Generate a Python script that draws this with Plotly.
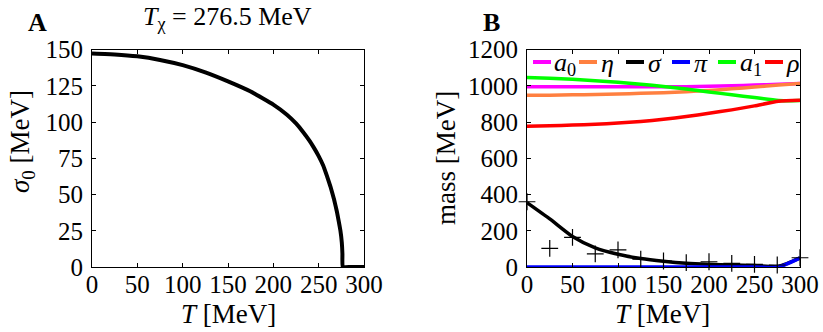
import plotly.graph_objects as go

W, H = 823, 332

# ---------------- data ----------------
T_A = [0, 25, 50, 75, 100, 125, 150, 175, 200, 215, 225, 233, 240, 245, 250, 255,
       259, 263, 267, 270, 272, 274, 275.5, 276.2, 276.5, 285, 300]
sigma0 = [147.2, 146.6, 145.3, 142.8, 139.2, 134.2, 128, 121, 112, 105, 99, 93, 87,
          82, 76.5, 70, 63, 55.5, 46.5, 38.5, 32, 25, 17, 9, 0, 0, 0]

T_B = [0, 25, 50, 75, 100, 125, 150, 175, 200, 225, 250, 276.5, 300]
m_a0 = [994, 994, 994, 994, 994, 994, 994, 995, 997, 1000, 1004, 1008, 1012]
m_eta = [947, 948, 950, 952, 955, 958, 962, 967, 974, 983, 993, 1004, 1013]
m_sigma = [355, 265, 168, 105, 70, 47, 32, 21, 15, 11, 8, 3, 50]
m_pi = [0, 0, 0, 0, 0, 0, 0, 0, 0, 0, 0, 0, 50]
m_a1 = [1046, 1042, 1036, 1028, 1019, 1008, 996, 982, 966, 950, 935, 919, 918]
m_rho = [777, 779, 783, 788, 794, 803, 815, 830, 848, 867, 889, 914, 920]

T_pts = [0, 25, 50, 75, 100, 125, 150, 175, 200, 225, 250, 275, 300]
m_pts = [360, 103, 163, 72, 94, 44, 33, 24, 29, 20, 15, 11, 51]

series = [("a0", m_a0, "#FF00FF", "<i>a</i><sub>0</sub>"),
          ("eta", m_eta, "#FF8040", "<i>η</i>"),
          ("sigma", m_sigma, "#000000", "<i>σ</i>"),
          ("pi", m_pi, "#0000FF", "<i>π</i>"),
          ("a1", m_a1, "#00FF00", "<i>a</i><sub>1</sub>"),
          ("rho", m_rho, "#FF0000", "<i>ρ</i>")]

FONT = "Liberation Serif"

def px(x):
    return x / W

def py(y):
    return 1 - y / H

fig = go.Figure()

fig.add_trace(go.Scatter(x=T_A, y=sigma0, mode="lines",
                         line=dict(color="black", width=4, shape="spline", smoothing=0.3),
                         xaxis="x", yaxis="y", showlegend=False))

for name, vals, col, lab in series:
    fig.add_trace(go.Scatter(x=T_B, y=vals, mode="lines",
                             line=dict(color=col, width=3.5, shape="spline", smoothing=0.6),
                             xaxis="x2", yaxis="y2", showlegend=False, name=name))

fig.add_trace(go.Scatter(x=T_pts, y=m_pts, mode="markers",
                         marker=dict(symbol="cross-thin", size=12,
                                     line=dict(color="black", width=1.2)),
                         xaxis="x2", yaxis="y2", showlegend=False, cliponaxis=False))

axis_common = dict(showline=True, linecolor="black", linewidth=1, mirror="allticks",
                   ticks="inside", ticklen=4, tickcolor="black", showgrid=False,
                   zeroline=False, automargin=False,
                   tickfont=dict(family=FONT, size=25, color="black"))

y_top, y_bot = 49.5, 267
fig.update_layout(
    template="none",
    width=W, height=H, margin=dict(l=0, r=0, t=0, b=0, pad=0, autoexpand=False),
    font=dict(family=FONT, color="black"),
    showlegend=False,
    paper_bgcolor="white", plot_bgcolor="white",
    xaxis=dict(domain=[px(92), px(364)], range=[0, 300], tickvals=[0, 50, 100, 150, 200, 250, 300],
               anchor="y", ticklabelstandoff=-5, **axis_common),
    yaxis=dict(domain=[py(y_bot), py(y_top)], range=[0, 150], tickvals=[0, 25, 50, 75, 100, 125, 150],
               anchor="x", ticklabelstandoff=3, **axis_common),
    xaxis2=dict(domain=[px(527), px(800)], range=[0, 300], tickvals=[0, 50, 100, 150, 200, 250, 300],
                anchor="y2", ticklabelstandoff=-5, **axis_common),
    yaxis2=dict(domain=[py(y_bot), py(y_top)], range=[0, 1200],
                tickvals=[0, 200, 400, 600, 800, 1000, 1200],
                anchor="x2", ticklabelstandoff=3, **axis_common),
)

ann = []
def text(x, y, s, size=25, angle=0, bold=False, xanchor="center", yanchor="middle"):
    ann.append(dict(x=px(x), y=py(y), xref="paper", yref="paper", text=("<b>%s</b>" % s) if bold else s,
                    showarrow=False, textangle=angle, xanchor=xanchor, yanchor=yanchor,
                    font=dict(family=FONT, size=size, color="black")))

text(37, 22, "A", size=26, bold=True)
text(492, 22, "B", size=26, bold=True)
text(227, 18, "<i>T</i><sub>χ</sub> = 276.5 MeV", size=26)
text(228, 314, "<i>T</i> [MeV]", size=27)
text(662, 314, "<i>T</i> [MeV]", size=27)
text(22, 142, "<i>σ</i><sub>0</sub> [MeV]", size=27, angle=-90)
text(446, 158, "mass [MeV]", size=27, angle=-90)

leg_line_x = [533, 579, 626, 672, 718, 765]
leg_text_x = [552, 599, 646, 692, 738, 784]
shapes = []
for (name, vals, col, lab), lx, tx in zip(series, leg_line_x, leg_text_x):
    shapes.append(dict(type="line", xref="paper", yref="paper", x0=px(lx), x1=px(lx + 18),
                       y0=py(62), y1=py(62), line=dict(color=col, width=4)))
    text(tx, 64, lab, size=26, xanchor="left")

fig.update_layout(annotations=ann, shapes=shapes)

fig.write_html("out.html")
